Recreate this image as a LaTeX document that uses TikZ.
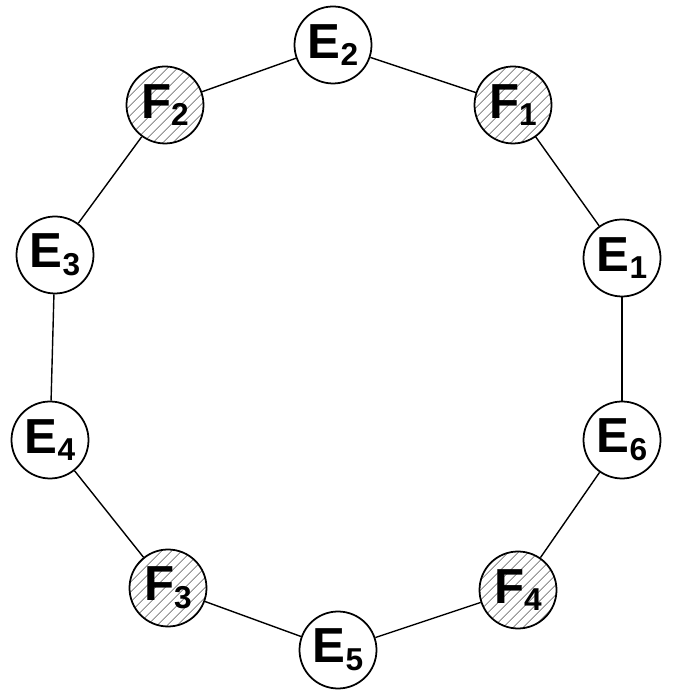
\documentclass[tikz,border=0pt]{standalone}
\usepackage{fontspec}
\setsansfont{Liberation Sans}
\usetikzlibrary{patterns.meta}
\newcommand{\lbl}[2]{#1\raisebox{-0.3ex}{\fontsize{18}{20}\selectfont#2}}
\begin{document}
\begin{tikzpicture}[
  every node/.style={draw, circle, line width=1pt, minimum size=1.54cm, inner sep=0pt,
    font=\sffamily\bfseries\fontsize{28}{30}\selectfont},
  fnode/.style={pattern={Lines[angle=45, distance=4pt, line width=0.6pt]}, pattern color=black!40},
  link/.style={line width=0.8pt}
]
\useasboundingbox (0,0) rectangle (13.6,13.86);
\node (e2) at (6.66,12.96) {\lbl{E}{2}};
\node[fnode] (f1) at (10.26,11.76) {\lbl{F}{1}};
\node[fnode] (f2) at (3.30,11.76) {\lbl{F}{2}};
\node (e3) at (1.10,8.76) {\lbl{E}{3}};
\node (e1) at (12.44,8.70) {\lbl{E}{1}};
\node (e4) at (1.00,5.06) {\lbl{E}{4}};
\node (e6) at (12.44,5.06) {\lbl{E}{6}};
\node[fnode] (f3) at (3.36,2.10) {\lbl{F}{3}};
\node[fnode] (f4) at (10.36,2.06) {\lbl{F}{4}};
\node (e5) at (6.76,0.86) {\lbl{E}{5}};
\draw[link] (e2) -- (f1);
\draw[link] (f1) -- (e1);
\draw[link] (e1) -- (e6);
\draw[link] (e6) -- (f4);
\draw[link] (f4) -- (e5);
\draw[link] (e5) -- (f3);
\draw[link] (f3) -- (e4);
\draw[link] (e4) -- (e3);
\draw[link] (e3) -- (f2);
\draw[link] (f2) -- (e2);
\end{tikzpicture}
\end{document}
